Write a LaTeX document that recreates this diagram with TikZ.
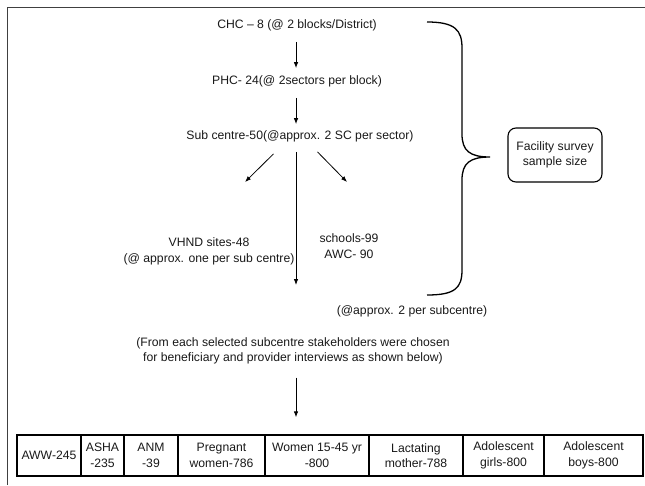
\documentclass[tikz,border=0pt]{standalone}
\usepackage{fontspec}
\setmainfont{Liberation Sans}
\usetikzlibrary{arrows.meta}

\begin{document}
\begin{tikzpicture}[x=1pt, y=-1pt,
    lbl/.style={inner sep=0pt, align=center, font=\fontsize{12.2}{15.5}\selectfont, text=black!90},
    arr/.style={-{Latex[length=6pt,width=4.5pt]}, line width=0.8pt},
    cell/.style={lbl, draw, line width=1.3pt, minimum height=41pt},
  ]
  \useasboundingbox (0,0) rectangle (645,485);
  \draw[line width=1pt, black!75] (7,485) -- (7,7) -- (645,7); % frame

  \node[lbl] (chc) at (297,25) {CHC – 8 (@ 2 blocks/District)};
  \node[lbl] (phc) at (297,81) {PHC- 24(@ 2sectors per block)};
  \node[lbl] (sc) at (300,136) {Sub centre-50(@approx. 2 SC per sector)};
  \node[lbl] (vhnd) at (209,251.5) {VHND sites-48\\(@ approx. one per sub centre)};
  \node[lbl] (school) at (349,246) {schools-99\\AWC- 90};
  \node[lbl] (per) at (412,311) {(@approx. 2 per subcentre)};
  \node[lbl] (from) at (293,351) {(From each selected subcentre stakeholders were chosen\\for beneficiary and provider interviews as shown below)};
  \node[lbl, draw, rounded corners=8pt, line width=1.1pt, minimum width=94pt, minimum height=54pt] (fac) at (555,155) {Facility survey\\sample size};

  \node[cell, minimum width=64pt] (aww) at (49,455.5) {AWW-245};
  \node[cell, minimum width=43pt] (asha) at (102.5,455.5) {ASHA\\-235};
  \node[cell, minimum width=54pt] (anm) at (151,455.5) {ANM\\-39};
  \node[cell, minimum width=87pt] (preg) at (221.5,455.5) {Pregnant\\women-786};
  \node[cell, minimum width=104pt] (women) at (317,455.5) {Women 15-45 yr\\-800};
  \node[cell, minimum width=94pt] (lact) at (416,455.5) {Lactating\\mother-788};
  \node[cell, minimum width=81pt] (girls) at (503.5,455.5) {Adolescent\\girls-800};
  \node[cell, minimum width=99pt] (boys) at (593.5,455.5) {Adolescent\\boys-800};

  \coordinate (mid) at (296,285);
  \coordinate (vtip) at (245,182);
  \coordinate (stip) at (347,182);

  \draw[arr, shorten <=11pt, shorten >=7pt] (chc.south -| mid) -- (phc.north -| mid); % chc-phc
  \draw[arr, shorten <=11pt, shorten >=6pt] (phc.south -| mid) -- (sc.north -| mid); % phc-sc
  \draw[arr, shorten <=10pt] (sc.south -| mid) -- (mid); % sc down
  \draw[arr] ([xshift=-26.5pt, yshift=-12pt]sc.south) -- (vtip); % sc-vhnd
  \draw[arr] ([xshift=17.5pt, yshift=-10pt]sc.south) -- (stip); % sc-schools
  \draw[arr, shorten <=13pt, shorten >=17pt] (from.south -| mid) -- (women.north -| mid); % from-cells

  % brace
  \draw[line width=1.3pt] (427,22) .. controls (455,22) and (462,30) .. (462,48) -- (462,134)
    .. controls (462,151) and (470,157) .. (490,157)
    .. controls (470,157) and (462,163) .. (462,180) -- (462,270)
    .. controls (462,288) and (455,295) .. (427,295);
\end{tikzpicture}
\end{document}
